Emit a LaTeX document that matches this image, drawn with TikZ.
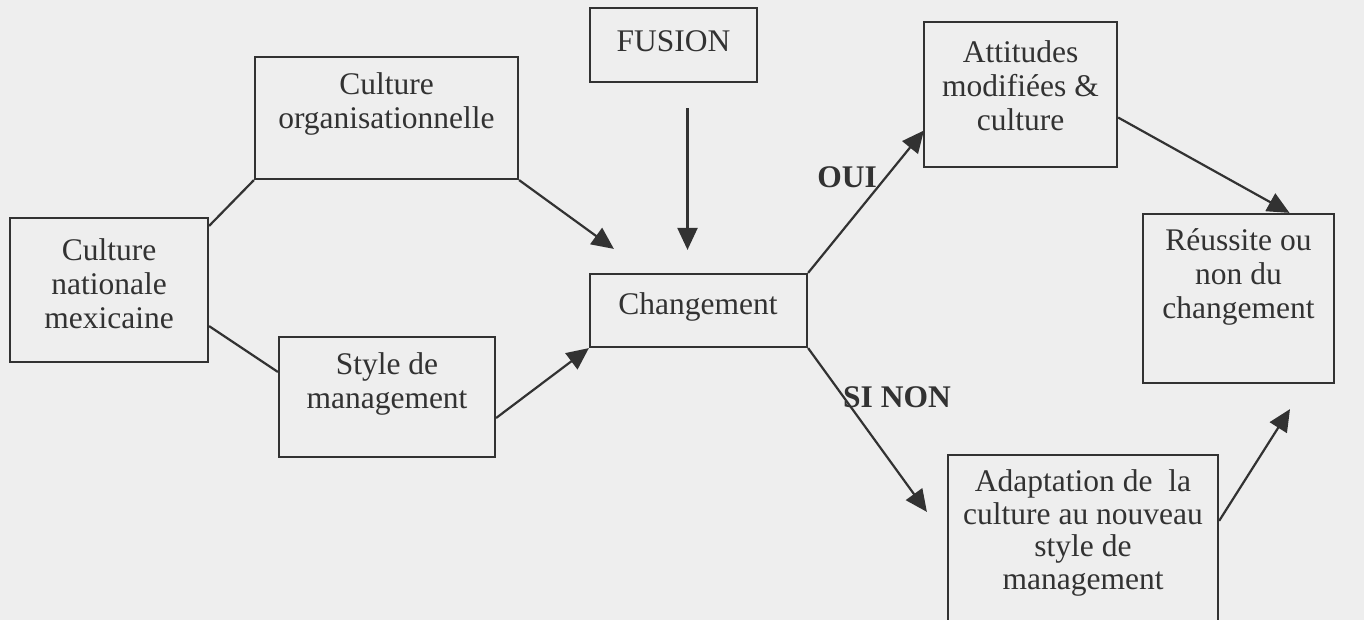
\documentclass[tikz,border=0pt]{standalone}
\usepackage{fontspec}
\setmainfont{Liberation Serif}
\usetikzlibrary{arrows.meta,calc}

\definecolor{paper}{RGB}{238,238,238}
\definecolor{ink}{RGB}{50,50,50}

\tikzset{
  box/.style={draw=ink, line width=2.2pt, rectangle, inner sep=0pt},
  txt/.style={text=ink, align=center, font=\fontsize{31.5}{34}\selectfont, inner sep=0pt},
  tag/.style={text=ink, font=\fontsize{31.5}{34}\selectfont\bfseries, inner sep=0pt},
  link/.style={draw=ink, line width=2.2pt},
  flow/.style={link, -{Triangle[length=22pt,width=20pt]}}
}

\begin{document}
\begin{tikzpicture}[x=1pt,y=1pt]
  % page
  \fill[paper] (0,0) rectangle (1364,-620);
  \useasboundingbox (0,0) rectangle (1364,-620);
  \clip (0,0) rectangle (1364,-620);

  % boxes
  \node[box, minimum width=198pt, minimum height=144pt] (nat) at (109,-290) {};
  \node[box, minimum width=263pt, minimum height=122pt] (org) at (386.5,-118) {};
  \node[box, minimum width=216pt, minimum height=120pt] (sty) at (387,-397) {};
  \node[box, minimum width=167pt, minimum height=74pt]  (fus) at (673.5,-45) {};
  \node[box, minimum width=217pt, minimum height=73pt]  (chg) at (698.5,-310.5) {};
  \node[box, minimum width=193pt, minimum height=145pt] (att) at (1020.5,-94.5) {};
  \node[box, minimum width=191pt, minimum height=169pt] (reu) at (1238.5,-298.5) {};
  \node[box, minimum width=270pt, minimum height=200pt] (ada) at (1083,-555) {};

  % box texts
  \node[txt] (nat-t) at (109,-284) {Culture\\nationale\\mexicaine};
  \node[txt] (org-t) at (386.5,-104) {Culture\\organisationnelle};
  \node[txt] (sty-t) at (387,-384) {Style de\\management};
  \node[txt] (fus-t) at (673.5,-41) {FUSION};
  \node[txt] (chg-t) at (698,-307) {Changement};
  \node[txt] (att-t) at (1020.5,-86) {Attitudes\\modifiées \&\\culture};
  \node[txt] (reu-t) at (1238.5,-277) {Réussite ou\\non du\\changement};
  \node[txt, font=\fontsize{31.5}{32.5}\selectfont] (ada-t) at (1083,-533)
    {Adaptation de\ \ la\\culture au nouveau\\style de\\management};

  % connectors
  \draw[link] ($(nat.north east)+(0,-9)$) -- (org.south west);
  \draw[link] ($(nat.south east)+(0,37)$) -- ($(sty.west)+(0,25)$);
  \draw[flow] (org.south east) -- ($(chg.north west)+(25,24)$);
  \draw[flow] ($(sty.east)+(0,-21)$) -- (chg.south west);
  \draw[flow] ($(fus.south)+(14,-25)$) -- ($(chg.north)+(-11,23)$);
  \draw[flow] (chg.north east) -- ($(att.west)+(1,-36)$);
  \draw[flow] (chg.south east) -- ($(ada.north west)+(-20,-58)$);
  \draw[flow] ($(att.east)+(0,-23)$) -- ($(reu.north)+(51,0)$);
  \draw[flow] ($(ada.north east)+(0,-67)$) -- ($(reu.south)+(51.5,-25)$);

  % branch labels
  \node[tag, anchor=east] (oui) at (877,-177) {OUI};
  \node[tag, anchor=west] (sinon) at (843,-397) {SI NON};
\end{tikzpicture}
\end{document}
